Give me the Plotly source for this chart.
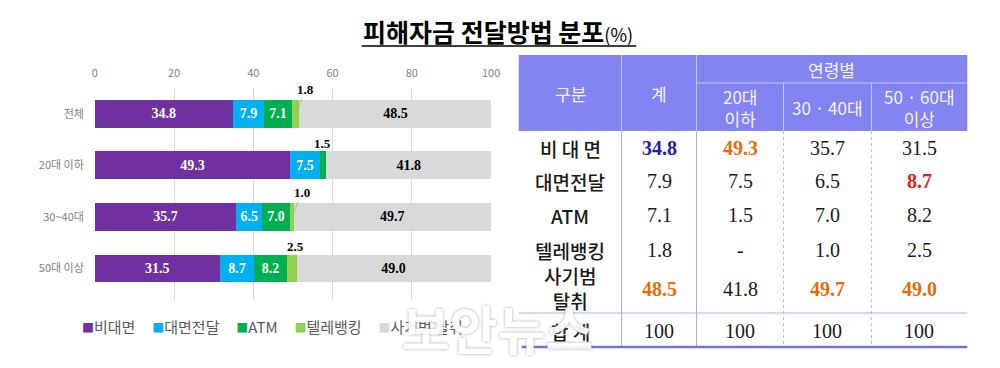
import plotly.graph_objects as go

W, H = 1000, 368
def PX(x): return x / W
def PY(y): return 1 - y / H

# ---------------- data ----------------
categories = ["전체", "20대 이하", "30~40대", "50대 이상"]
series_names = ["비대면", "대면전달", "ATM", "텔레뱅킹", "사기범 탈취"]
v_nonface = [34.8, 49.3, 35.7, 31.5]
v_face = [7.9, 7.5, 6.5, 8.7]
v_atm = [7.1, 1.5, 7.0, 8.2]
v_tele = [1.8, 0.0, 1.0, 2.5]
v_fraud = [48.5, 41.8, 49.7, 49.0]
totals = [100, 100, 100, 100]
tick_vals = [0, 20, 40, 60, 80, 100]

table_header_cols = ["구분", "계", "20대<br>이하", "30 · 40대", "50 · 60대<br>이상"]
table_group_header = "연령별"
table_row_labels = ["비 대 면", "대면전달", "ATM", "텔레뱅킹", "사기범<br>탈취", "합 계"]

colors = ["#7030a0", "#00b0f0", "#00b050", "#92d050", "#d9d9d9"]
text_colors = ["white", "white", "white", "black", "black"]
series = [v_nonface, v_face, v_atm, v_tele, v_fraud]

fig = go.Figure()
SERIF = "Liberation Serif, Times New Roman, serif"
KR = "Noto Sans CJK KR, sans-serif"

for i, (name, vals) in enumerate(zip(series_names, series)):
    txt = [f"{v:.1f}" if v >= 5 else "" for v in vals]
    fig.add_trace(go.Bar(
        y=categories, x=vals, name=name, orientation="h",
        marker=dict(color=colors[i], line=dict(width=0)),
        text=txt, textposition="inside", insidetextanchor="middle",
        textangle=0, constraintext="none",
        textfont=dict(family=SERIF, size=14, color=text_colors[i], weight="bold"),
        hoverinfo="skip", showlegend=False,
    ))

fig.update_layout(
    barmode="stack", bargap=0.46,
    width=W, height=H, margin=dict(l=0, r=0, t=0, b=0),
    paper_bgcolor="white", plot_bgcolor="white",
    xaxis=dict(domain=[PX(93), PX(494)], range=[0, 100], side="top",
               tickvals=tick_vals, showgrid=True, gridcolor="#d9d9d9",
               gridwidth=1, zeroline=False, showline=False, ticks="",
               tickfont=dict(family=KR, size=11, color="#7f7f7f"), ticklabelstandoff=8),
    yaxis=dict(domain=[PY(300), PY(88)], autorange="reversed",
               showgrid=False, zeroline=False, showline=False, ticks="",
               tickfont=dict(family=KR, size=11, color="#7f7f7f"), ticklabelstandoff=10),
    showlegend=False,
)

# legend (drawn as text with coloured squares)
legend_txt = "     ".join(
    f"<span style='color:{c};font-size:12px'>■</span>{n}" for c, n in zip(colors, series_names))
fig.add_annotation(x=PX(78), y=PY(326), xref="paper", yref="paper", xanchor="left",
                   yanchor="middle", showarrow=False, text=legend_txt,
                   font=dict(family=KR, size=15, color="#595959"))

# small segment labels above bars
cum_before_tele = [a + b + c for a, b, c in zip(v_nonface, v_face, v_atm)]
for ci, cat in enumerate(categories):
    if v_tele[ci] > 0:
        center = cum_before_tele[ci] + v_tele[ci] / 2
        if v_tele[ci] < 2:
            fig.add_annotation(x=center, y=cat, xref="x", yref="y",
                               text=f"<b>{v_tele[ci]:.1f}</b>", showarrow=True,
                               arrowhead=0, arrowwidth=0.8, arrowcolor="#a6a6a6",
                               ax=10, ay=-24, standoff=0,
                               font=dict(family=SERIF, size=13, color="black"))
        else:
            fig.add_annotation(x=center, y=cat, xref="x", yref="y",
                               text=f"<b>{v_tele[ci]:.1f}</b>", showarrow=False,
                               xshift=4, yshift=22,
                               font=dict(family=SERIF, size=13, color="black"))
    else:
        center = v_nonface[ci] + v_face[ci] + v_atm[ci] / 2
        fig.add_annotation(x=center, y=cat, xref="x", yref="y",
                           text=f"<b>{v_atm[ci]:.1f}</b>", showarrow=False,
                           xshift=0, yshift=22,
                           font=dict(family=SERIF, size=13, color="black"))

# ---------------- title ----------------
fig.add_annotation(x=PX(501), y=PY(31), xref="paper", yref="paper", showarrow=False,
                   xanchor="center", yanchor="middle",
                   text="<b>피해자금 전달방법 분포</b><span style='font-size:18px'>(%)</span>",
                   font=dict(family=KR, size=25, color="black"))
fig.add_shape(type="line", xref="paper", yref="paper", x0=PX(363), x1=PX(641),
              y0=PY(46), y1=PY(46), line=dict(color="black", width=1.5))

# ---------------- table ----------------
col_edges = [522, 626, 702, 790, 879, 976]
hdr_top, hdr_mid, hdr_bot = 55, 83, 131
row_centers = [148, 181, 215, 250, 288, 331]
sep_y, bottom_y = 313, 347
hdr_color = "#8383f1"

fig.add_shape(type="rect", xref="paper", yref="paper", x0=PX(col_edges[0]), x1=PX(col_edges[-1]),
              y0=PY(hdr_bot), y1=PY(hdr_top), fillcolor=hdr_color, line=dict(width=0), layer="below")
for xe in col_edges[1:3]:
    fig.add_shape(type="line", xref="paper", yref="paper", x0=PX(xe), x1=PX(xe),
                  y0=PY(hdr_top), y1=PY(hdr_bot), line=dict(color="#c8c8ff", width=1))
for xe in col_edges[3:5]:
    fig.add_shape(type="line", xref="paper", yref="paper", x0=PX(xe), x1=PX(xe),
                  y0=PY(hdr_mid), y1=PY(hdr_bot), line=dict(color="#c8c8ff", width=1))
fig.add_shape(type="line", xref="paper", yref="paper", x0=PX(col_edges[2]), x1=PX(col_edges[-1]),
              y0=PY(hdr_mid), y1=PY(hdr_mid), line=dict(color="#c8c8ff", width=1))
# body lines
for xe in col_edges[1:3]:
    fig.add_shape(type="line", xref="paper", yref="paper", x0=PX(xe), x1=PX(xe),
                  y0=PY(hdr_bot), y1=PY(bottom_y), line=dict(color="#a9a9e6", width=1))
for xe in col_edges[3:5]:
    fig.add_shape(type="line", xref="paper", yref="paper", x0=PX(xe), x1=PX(xe),
                  y0=PY(hdr_bot), y1=PY(bottom_y), line=dict(color="#b8b8e0", width=1, dash="dot"))
fig.add_shape(type="line", xref="paper", yref="paper", x0=PX(col_edges[0]), x1=PX(col_edges[-1]),
              y0=PY(sep_y), y1=PY(sep_y), line=dict(color="#afafe6", width=1))
fig.add_shape(type="line", xref="paper", yref="paper", x0=PX(525), x1=PX(col_edges[-1]),
              y0=PY(bottom_y), y1=PY(bottom_y), line=dict(color="#7272d6", width=2.5))

col_centers = [(a + b) / 2 for a, b in zip(col_edges[:-1], col_edges[1:])]
hdr_font = dict(family=KR, size=17, color="#f4f4ff")
fig.add_annotation(x=PX((col_edges[2] + col_edges[-1]) / 2), y=PY(69), xref="paper", yref="paper",
                   xanchor="center", yanchor="middle",
                   text=table_group_header, showarrow=False, font=hdr_font)
for j, t in enumerate(table_header_cols):
    yc = 93 if j < 2 else 108
    fig.add_annotation(x=PX(col_centers[j]), y=PY(yc), xref="paper", yref="paper",
                       xanchor="center", yanchor="middle",
                       text=t, showarrow=False, font=hdr_font)

col_series = [
    [v_nonface[k], v_face[k], v_atm[k], v_tele[k], v_fraud[k], totals[k]] for k in range(4)
]
highlight = {(0, 0): "#1f1fa8", (0, 1): "#e46c0a", (1, 3): "#e01e1e",
             (4, 0): "#e46c0a", (4, 2): "#e46c0a", (4, 3): "#e46c0a"}

for r, lab in enumerate(table_row_labels):
    fig.add_annotation(x=PX(col_centers[0]), y=PY(row_centers[r]), xref="paper", yref="paper",
                       xanchor="center", yanchor="middle",
                       text=lab, showarrow=False,
                       font=dict(family=KR, size=19, color="#1a1a1a", weight=500))
    for c, vals in enumerate(col_series):
        v = vals[r]
        if r == 5:
            s = f"{v:d}"
        elif v == 0:
            s = "-"
        else:
            s = f"{v:.1f}"
        colr = highlight.get((r, c))
        txt = f"<b>{s}</b>" if colr else s
        fig.add_annotation(x=PX(col_centers[c + 1]), y=PY(row_centers[r] + (1 if r == 4 else 0)),
                           xref="paper", yref="paper", xanchor="center", yanchor="middle",
                           text=txt, showarrow=False,
                           font=dict(family=SERIF, size=20, color=colr or "#1a1a1a"))

# watermark
fig.add_annotation(x=PX(500), y=PY(327), xref="paper", yref="paper", text="<b>보안뉴스</b>",
                   xanchor="center", yanchor="middle",
                   showarrow=False, opacity=0.92,
                   font=dict(family=KR, size=52, color="white", shadow="0px 0px 3px #9a9a9a"))

fig.write_html("out.html", config={"displayModeBar": False},
               post_script="document.documentElement.style.margin='0';"
                           "document.body.style.margin='0';"
                           "document.documentElement.style.overflow='hidden';"
                           "document.body.style.overflow='hidden';")
